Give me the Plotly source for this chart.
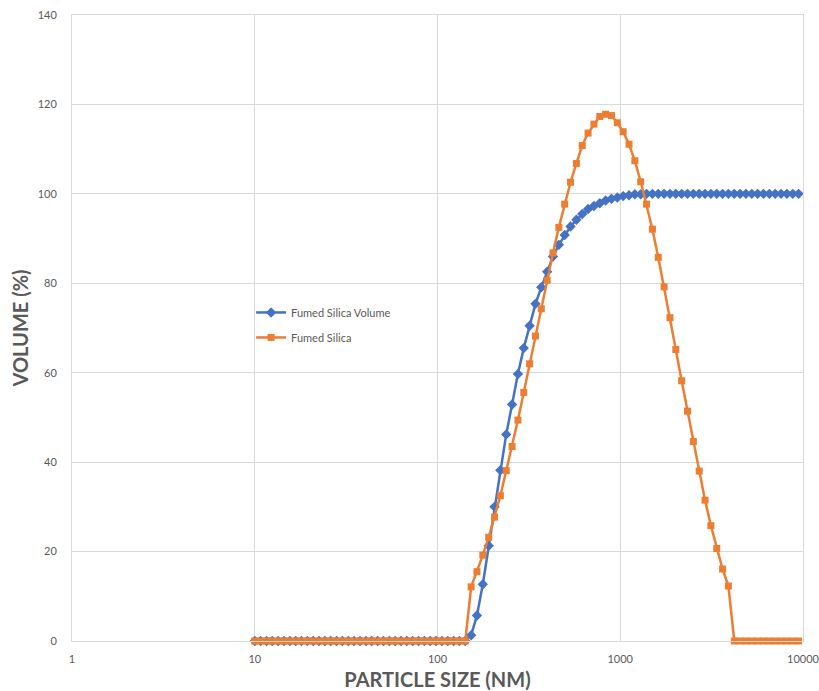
import plotly.graph_objects as go

# Particle size bins (nm), log-spaced
particle_size = [
    10, 10.76, 11.59, 12.47, 13.43, 14.45, 15.56, 16.75, 18.03, 19.41,
    20.89, 22.49, 24.21, 26.06, 28.05, 30.20, 32.51, 34.99, 37.67, 40.55,
    43.65, 46.99, 50.58, 54.45, 58.61, 63.10, 67.92, 73.11, 78.70, 84.72,
    91.20, 98.17,
    105.7, 113.8, 122.5, 131.8, 141.9, 152.8, 164.4, 177.0, 190.6, 205.1,
    220.8, 237.7, 255.9, 275.4, 296.5, 319.2, 343.6, 369.8, 398.1, 428.6,
    461.3, 496.6, 534.6, 575.4, 619.4, 666.8, 717.8, 772.7, 831.8, 895.4,
    963.8,
    1037.5, 1116.9, 1202.3, 1294.2, 1393.2, 1499.7, 1614.4, 1737.8, 1870.7,
    2013.7, 2167.7, 2333.5, 2511.9, 2704.0, 2910.7, 3133.3, 3372.9, 3630.8,
    3908.4, 4207.3, 4529.0, 4875.3, 5248.1, 5649.4, 6081.4, 6546.4, 7046.9,
    7585.8, 8165.8, 8790.2, 9462.4,
]

# Cumulative volume (%)
fumed_silica_volume = (
    [0.0] * 37
    + [1.3, 5.7, 12.7, 21.3, 30.0, 38.2, 46.2, 52.9, 59.7, 65.5,
       70.5, 75.4, 79.1, 82.6, 86.0, 88.6, 90.8, 92.7, 94.2, 95.5,
       96.6, 97.3, 97.9, 98.5, 98.9, 99.2, 99.5, 99.7, 99.9, 99.9]
    + [100.0] * 27
)

# Distribution (%)
fumed_silica = (
    [0.0] * 37
    + [12.1, 15.5, 19.2, 23.2, 27.7, 32.5, 38.1, 43.5, 49.4, 55.6,
       62.0, 68.2, 74.3, 80.7, 86.8, 92.5, 97.7, 102.6, 106.8, 110.8,
       113.6, 115.6, 117.3, 117.8, 117.5, 115.9, 113.9, 111.1, 107.4, 102.7,
       97.7, 92.1, 85.8, 79.2, 72.3, 65.2, 58.2, 51.4, 44.6, 38.0,
       31.5, 25.8, 20.7, 16.1, 12.3]
    + [0.0] * 12
)

x_ticks = [1, 10, 100, 1000, 10000]
x_tick_labels = ["1", "10", "100", "1000", "10000"]
y_ticks = [0, 20, 40, 60, 80, 100, 120, 140]

BLUE = "#4472C4"
ORANGE = "#ED7D31"
GRID = "#D9D9D9"
TEXT = "#595959"
FONT = "Lato, 'Open Sans', sans-serif"

fig = go.Figure()
fig.add_trace(go.Scatter(
    x=particle_size, y=fumed_silica_volume, name="Fumed Silica Volume",
    mode="lines+markers", legendgroup="a", cliponaxis=False,
    line=dict(color=BLUE, width=2.5),
    marker=dict(symbol="diamond", size=8, color=BLUE),
))
fig.add_trace(go.Scatter(
    x=particle_size, y=fumed_silica, name="Fumed Silica",
    mode="lines+markers", legendgroup="b", cliponaxis=False,
    line=dict(color=ORANGE, width=2.5),
    marker=dict(symbol="square", size=7, color=ORANGE),
))

fig.update_layout(
    width=819, height=691,
    margin=dict(l=72, r=16, t=15, b=50),
    paper_bgcolor="white", plot_bgcolor="white",
    font=dict(family=FONT, color=TEXT, size=11),
    legend=dict(
        x=0.245, y=0.548, xanchor="left", yanchor="top",
        bgcolor="rgba(0,0,0,0)", font=dict(size=11, color=TEXT),
        itemwidth=30, tracegroupgap=6,
    ),
    xaxis=dict(
        type="log", range=[-0.0001, 4.0001], automargin=False,
        tickvals=x_ticks, ticktext=x_tick_labels,
        showgrid=True, gridcolor=GRID, gridwidth=1,
        showline=True, linecolor=GRID, linewidth=1, mirror=True,
        zeroline=False, ticks="",
        ticklabelstandoff=8, ticklabeloverflow="allow",
        tickfont=dict(size=11, color=TEXT),
        title=dict(text="<b>PARTICLE SIZE (NM)</b>",
                   font=dict(size=20, color=TEXT), standoff=8),
    ),
    yaxis=dict(
        range=[0, 140], automargin=False, tickvals=y_ticks,
        showgrid=True, gridcolor=GRID, gridwidth=1,
        showline=True, linecolor=GRID, linewidth=1, mirror=True,
        zeroline=False, ticks="",
        ticklabelstandoff=12,
        tickfont=dict(size=11, color=TEXT),
        title=dict(text="<b>VOLUME (%)</b>",
                   font=dict(size=20, color=TEXT), standoff=3),
    ),
)

fig.write_html("out.html")
